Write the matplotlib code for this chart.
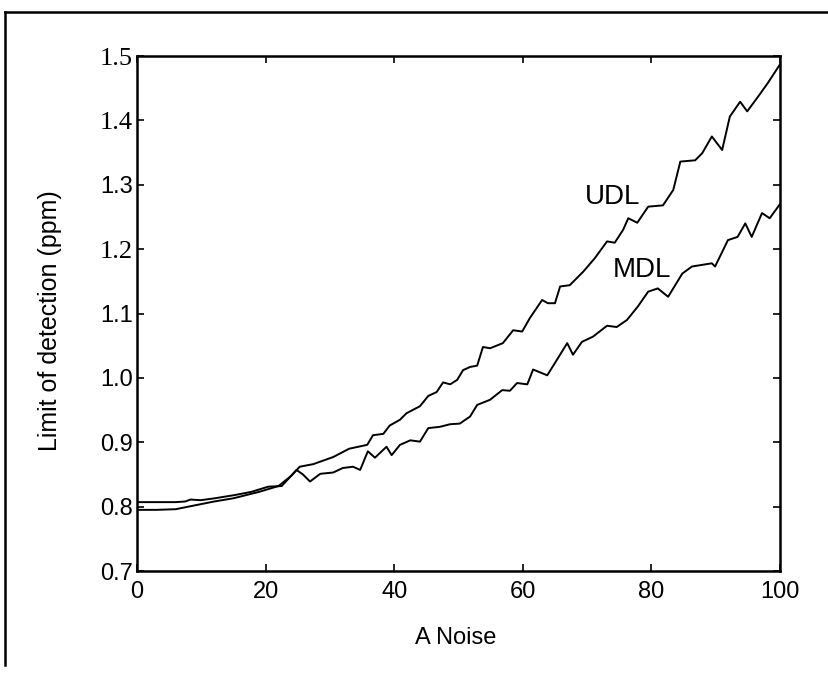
import matplotlib
matplotlib.use('Agg')
import matplotlib.pyplot as plt
from matplotlib.lines import Line2D
import numpy as np

# UDL / MDL curves vs noise level
udl_x = [0, 3, 6, 7.5, 10, 12, 15, 19, 22, 24, 25.3, 27.4, 30.5, 33, 35.8, 36.7, 38.3,
         39.3, 40.9, 41.9, 44, 45.3, 46.6, 47.6, 48.7, 49.8, 50.7, 51.8, 52.9, 53.8,
         54.9, 56.9, 58.5, 59.9, 61.1, 63, 63.9, 65, 65.8, 67.3, 69.4, 71.2, 73.1, 74.3,
         75.6, 76.4, 77.8, 79.5, 81.8, 83.4, 84.5, 86.8, 87.9, 89.4, 91, 92.2, 93.8,
         94.9, 96.6, 98.1, 100]
udl_y = [0.795, 0.795, 0.796, 0.799, 0.804, 0.808, 0.813, 0.823, 0.832, 0.848, 0.862,
         0.866, 0.877, 0.89, 0.896, 0.911, 0.913, 0.926, 0.935, 0.945, 0.956, 0.972,
         0.978, 0.993, 0.990, 0.997, 1.012, 1.017, 1.019, 1.048, 1.046, 1.054, 1.074,
         1.072, 1.093, 1.121, 1.116, 1.116, 1.142, 1.144, 1.165, 1.186, 1.212, 1.21,
         1.23, 1.248, 1.241, 1.266, 1.268, 1.292, 1.336, 1.338, 1.349, 1.375, 1.354,
         1.406, 1.429, 1.414, 1.437, 1.458, 1.487]

mdl_x = [0, 3, 6, 7.5, 8.3, 9.9, 12.1, 15.2, 17.8, 20.4, 22.5, 23.7, 24.8, 25.8, 26.9,
         28.5, 30.5, 32, 33.6, 34.7, 35.9, 37, 38.8, 39.6, 40.9, 42.5, 44, 45.3, 47.1,
         48.7, 50.2, 51.8, 52.9, 54.9, 56.8, 58, 59.1, 60.7, 61.6, 63.8, 65.3, 66.9,
         67.8, 69.2, 70.9, 73.1, 74.6, 76.2, 77.9, 79.5, 81, 82.6, 84.8, 86.3, 89.4,
         89.9, 91.9, 93.4, 94.6, 95.6, 97.2, 98.4, 100]
mdl_y = [0.807, 0.807, 0.807, 0.808, 0.811, 0.81, 0.813, 0.818, 0.823, 0.831, 0.832,
         0.845, 0.857, 0.85, 0.839, 0.851, 0.853, 0.86, 0.862, 0.857, 0.886, 0.876,
         0.893, 0.88, 0.896, 0.903, 0.901, 0.922, 0.924, 0.928, 0.929, 0.94, 0.958,
         0.966, 0.981, 0.98, 0.992, 0.990, 1.013, 1.004, 1.028, 1.054, 1.036, 1.056,
         1.064, 1.081, 1.079, 1.09, 1.111, 1.134, 1.139, 1.126, 1.162, 1.173, 1.178,
         1.173, 1.214, 1.219, 1.240, 1.219, 1.256, 1.248, 1.27]

x_ticks = [0, 20, 40, 60, 80, 100]
y_ticks = [0.7, 0.8, 0.9, 1.0, 1.1, 1.2, 1.3, 1.4, 1.5]

plt.rcParams['font.family'] = ['Liberation Sans', 'DejaVu Sans']

fig = plt.figure(figsize=(8.29, 6.74), dpi=100)
ax = fig.add_axes([0.1653, 0.1528, 0.7756, 0.7641])

ax.plot(udl_x, udl_y, color='k', lw=1.4)
ax.plot(mdl_x, mdl_y, color='k', lw=1.4)

ax.set_xlim(0, 100)
ax.set_ylim(0.7, 1.5)
ax.set_xticks(x_ticks)
ax.set_yticks(y_ticks)
ax.set_yticklabels(['%.1f' % v for v in y_ticks])
ax.tick_params(direction='in', length=5, width=1.2, top=True, right=True,
               labelsize=17, colors='k')
ax.tick_params(axis='x', pad=7)
ax.tick_params(axis='y', pad=3)
for lab in ax.get_yticklabels():
    if lab.get_text() in ('1.2', '1.4', '1.5'):
        lab.set_family('Liberation Serif')
        lab.set_fontsize(19)
for sp in ax.spines.values():
    sp.set_linewidth(1.8)

ax.text(69.7, 1.281, 'UDL', fontsize=20, va='center', ha='left')
ax.text(74.0, 1.168, 'MDL', fontsize=20, va='center', ha='left')

ax.set_xlabel('A Noise', fontsize=17)
ax.xaxis.set_label_coords(0.496, -0.108)
ax.set_ylabel('Limit of detection (ppm)', fontsize=18)
ax.yaxis.set_label_coords(-0.117, 0.486)

# outer frame lines
fig.add_artist(Line2D([5 / 829, 1], [1 - 12 / 674, 1 - 12 / 674], color='k', lw=1.8))
fig.add_artist(Line2D([5 / 829, 5 / 829], [1 - 12 / 674, 1 - 665 / 674], color='k', lw=1.8))

fig.savefig('out.png', dpi=100)
